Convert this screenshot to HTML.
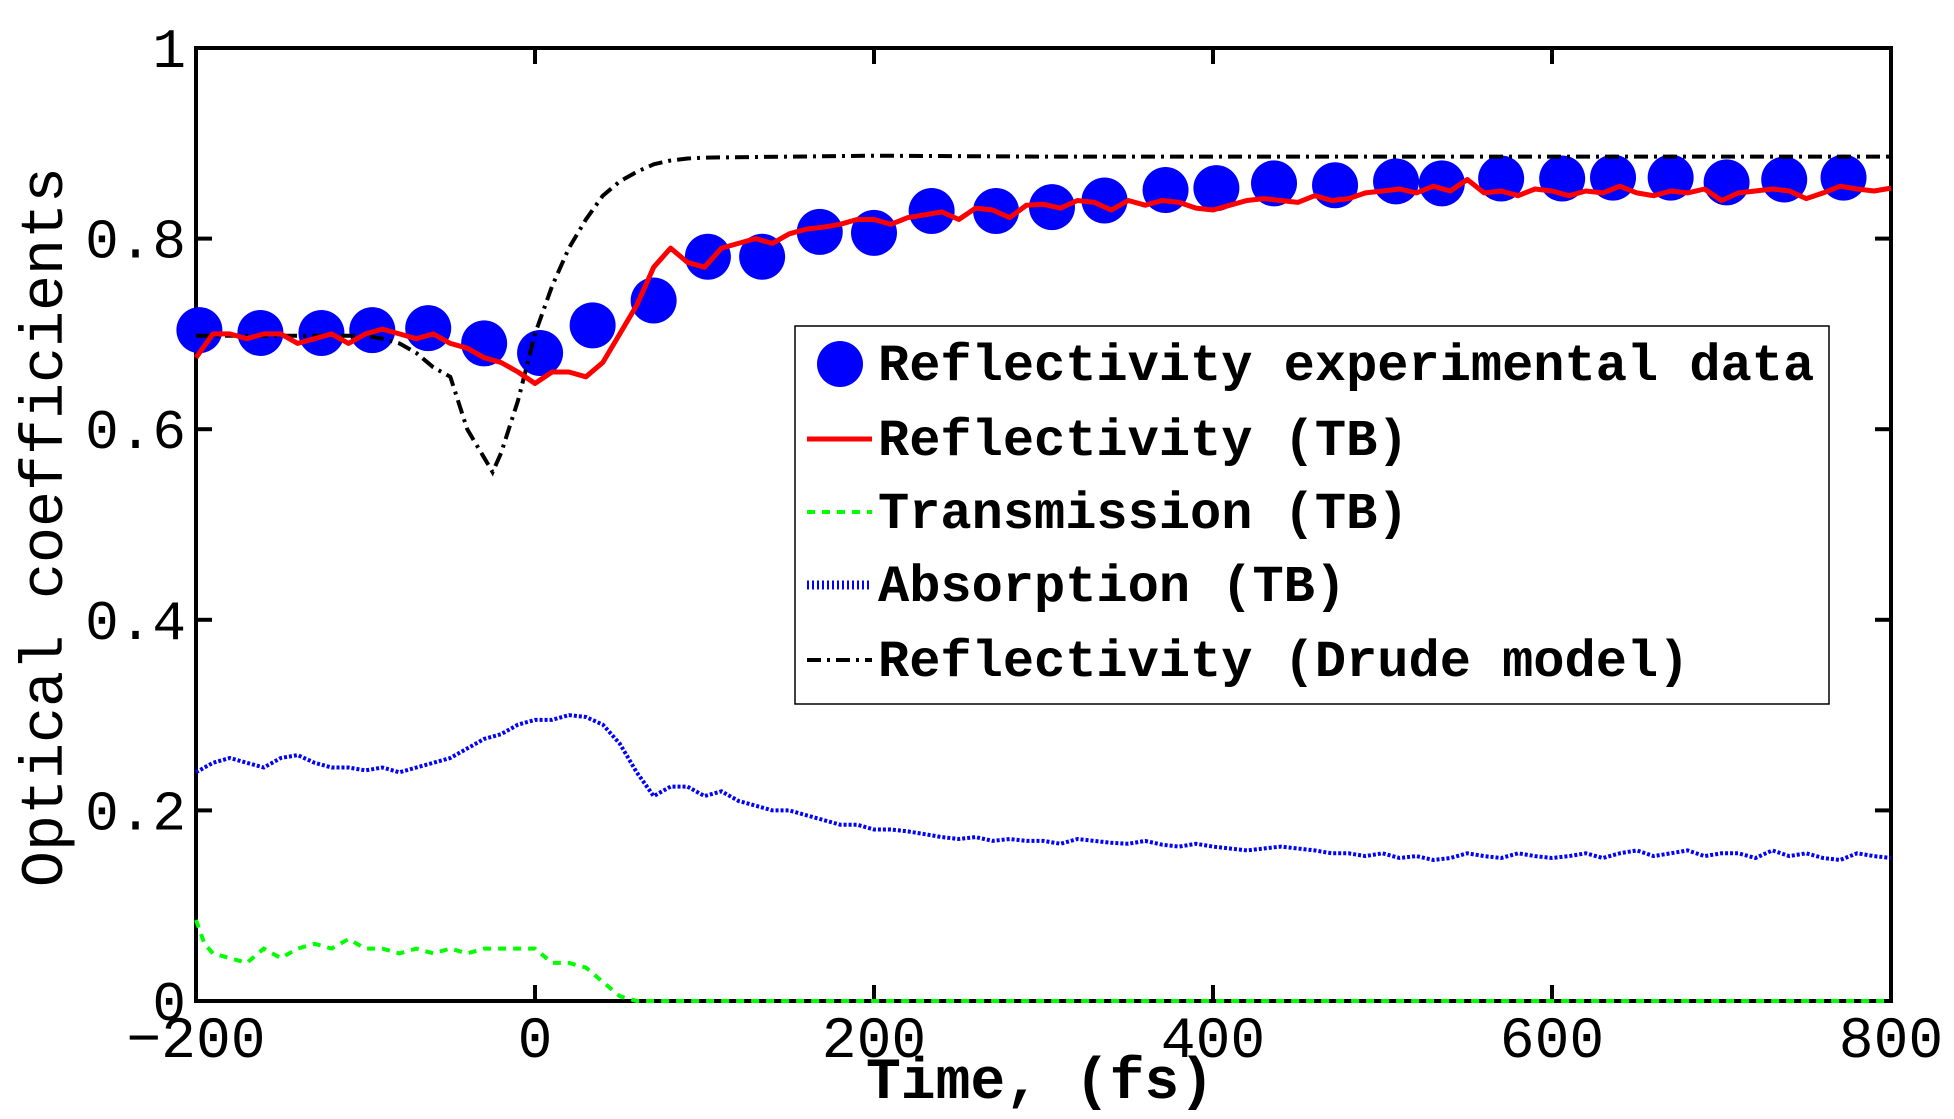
<!DOCTYPE html>
<html><head><meta charset="utf-8"><style>
html,body{margin:0;padding:0;background:#fff;}
svg{display:block;}
text{font-family:"Liberation Mono",monospace;fill:#000;}
</style></head><body>
<svg id="chart" width="1954" height="1119" viewBox="0 0 1954 1119" xmlns="http://www.w3.org/2000/svg">
<g id="axes"></g>
<g id="plot"></g>
<g id="legend"></g>
</svg>
<script>
const xTicks = [-200, 0, 200, 400, 600, 800];
const yTicks = [0, 0.2, 0.4, 0.6, 0.8, 1];
const yTickLabels = ["0", "0.2", "0.4", "0.6", "0.8", "1"];
const expT = [-198,-162,-126,-96,-63,-30,3,34,70,102,134,168,200,234,272,305,336,372,402,436,472,508,535,570,606,636,670,703,737,772];
const expV = [0.704,0.701,0.701,0.704,0.706,0.690,0.680,0.709,0.735,0.781,0.781,0.807,0.806,0.829,0.829,0.833,0.840,0.851,0.853,0.858,0.856,0.860,0.858,0.863,0.863,0.864,0.864,0.859,0.862,0.864];
const tbStart = -200, tbStep = 10;
const reflTB = [0.675,0.70,0.70,0.695,0.70,0.70,0.69,0.695,0.70,0.69,0.70,
0.705,0.70,0.695,0.70,0.69,0.685,0.675,0.67,0.66,0.648,
0.66,0.66,0.655,0.67,0.70,0.73,0.77,0.79,0.775,0.77,
0.79,0.795,0.80,0.795,0.805,0.81,0.812,0.815,0.82,0.82,
0.815,0.822,0.825,0.828,0.82,0.832,0.83,0.822,0.835,0.836,
0.832,0.84,0.838,0.83,0.84,0.835,0.84,0.838,0.832,0.83,
0.835,0.84,0.842,0.84,0.838,0.845,0.84,0.842,0.848,0.85,
0.852,0.848,0.855,0.85,0.862,0.848,0.85,0.845,0.852,0.85,
0.845,0.85,0.848,0.855,0.848,0.845,0.85,0.848,0.852,0.84,
0.848,0.85,0.852,0.85,0.842,0.848,0.855,0.852,0.85,0.853];
const absTB = [0.24,0.25,0.255,0.25,0.245,0.255,0.258,0.25,0.245,0.245,0.242,
0.245,0.24,0.245,0.25,0.255,0.265,0.275,0.28,0.29,0.295,
0.295,0.30,0.298,0.29,0.27,0.24,0.215,0.225,0.225,0.215,
0.22,0.21,0.205,0.20,0.20,0.195,0.19,0.185,0.185,0.18,
0.18,0.178,0.175,0.172,0.17,0.172,0.168,0.17,0.168,0.168,
0.165,0.17,0.168,0.166,0.165,0.168,0.164,0.162,0.165,0.162,
0.16,0.158,0.16,0.162,0.16,0.158,0.155,0.155,0.152,0.155,
0.15,0.152,0.148,0.15,0.155,0.152,0.15,0.155,0.152,0.15,
0.152,0.155,0.15,0.155,0.158,0.152,0.155,0.158,0.152,0.155,
0.155,0.15,0.158,0.152,0.155,0.15,0.148,0.155,0.152,0.15];
const drudeT = [-200,-100,-90,-80,-70,-60,-50,-40,-30,-25,-20,-10,0,10,20,30,40,50,60,70,80,90,100,200,300,400,500,600,700,800];
const drudeV = [0.698,0.698,0.695,0.69,0.68,0.665,0.655,0.60,0.57,0.555,0.575,0.63,0.70,0.75,0.79,0.82,0.845,0.86,0.87,0.878,0.882,0.884,0.885,0.887,0.886,0.886,0.886,0.886,0.886,0.886];
const transT = [-200,-195,-190,-180,-170,-160,-150,-140,-130,-120,-110,-100,-90,-80,-70,-60,-50,-40,-30,-20,-10,0,10,20,30,40,50,60,800];
const transV = [0.085,0.06,0.05,0.045,0.04,0.055,0.045,0.055,0.06,0.055,0.065,0.055,0.055,0.05,0.055,0.05,0.055,0.05,0.055,0.055,0.055,0.055,0.04,0.04,0.035,0.02,0.005,0,0];

const L=196,R=1891,T=48,B=1001;
const xs = t => L + (t - (-200)) / 1000 * (R - L);
const ys = v => B - v * (B - T);
const NS="http://www.w3.org/2000/svg";
function mk(tag, attrs, parent){const e=document.createElementNS(NS,tag);for(const k in attrs)e.setAttribute(k,attrs[k]);parent.appendChild(e);return e;}
const plot=document.getElementById('plot'), axes=document.getElementById('axes'), legend=document.getElementById('legend');
function pathFrom(ts, vs){return ts.map((t,i)=>(i?'L':'M')+xs(t).toFixed(1)+','+ys(vs[i]).toFixed(1)).join(' ');}
const tbT = reflTB.map((_,i)=>tbStart+i*tbStep);
const tbTa = absTB.map((_,i)=>tbStart+i*tbStep);

expT.forEach((t,i)=>{
  const c=mk('ellipse',{cx:xs(t),cy:ys(expV[i]),rx:23,ry:23,fill:'#0000ff'},plot);
  
  
});
let p;
p=mk('path',{d:pathFrom(drudeT,drudeV),fill:'none',stroke:'#000','stroke-width':4,'stroke-dasharray':'14,6,3,6'},plot);


p=mk('path',{d:pathFrom(tbT,reflTB),fill:'none',stroke:'#ff0000','stroke-width':5,'stroke-linejoin':'round'},plot);


p=mk('path',{d:pathFrom(tbTa,absTB),fill:'none',stroke:'#0000ff','stroke-width':4,'stroke-dasharray':'3,2'},plot);


p=mk('path',{d:pathFrom(transT,transV),fill:'none',stroke:'#00ff00','stroke-width':4,'stroke-dasharray':'8,7'},plot);



p=mk('rect',{x:L,y:T,width:R-L,height:B-T,fill:'none',stroke:'#000','stroke-width':4},axes);


xTicks.forEach(t=>{
  const x=xs(t);
  mk('line',{x1:x,y1:B,x2:x,y2:B-16,stroke:'#000','stroke-width':4},axes);
  mk('line',{x1:x,y1:T,x2:x,y2:T+16,stroke:'#000','stroke-width':4},axes);
  const tx=mk('text',{x:x,y:1057,'font-size':58,'text-anchor':'middle'},axes);
  tx.textContent=(t<0?'\u2212':'')+Math.abs(t);
  
  
});
yTicks.forEach((v,i)=>{
  const y=ys(v);
  mk('line',{x1:L,y1:y,x2:L+16,y2:y,stroke:'#000','stroke-width':4},axes);
  mk('line',{x1:R,y1:y,x2:R-16,y2:y,stroke:'#000','stroke-width':4},axes);
  const tx=mk('text',{x:186,y:y+19,'font-size':56,'text-anchor':'end'},axes);
  tx.textContent=yTickLabels[i];
  
  
});
let tl=mk('text',{x:1040,y:1098,'font-size':58,'font-weight':'bold','text-anchor':'middle'},axes);
tl.textContent='Time, (fs)';


tl=mk('text',{x:0,y:0,'font-size':60,'text-anchor':'middle',transform:'translate(62,527) rotate(-90)'},axes);
tl.textContent='Optical coefficients';



p=mk('rect',{x:795,y:326,width:1034,height:378,fill:'#fff',stroke:'#000','stroke-width':1.5},legend);


const rows=[364,439,512,585,660];
const labels=['Reflectivity experimental data','Reflectivity (TB)','Transmission (TB)','Absorption (TB)','Reflectivity (Drude model)'];
mk('ellipse',{cx:840,cy:rows[0],rx:23,ry:23,fill:'#0000ff'},legend);
mk('line',{x1:807,y1:rows[1],x2:872,y2:rows[1],stroke:'#ff0000','stroke-width':5},legend);
mk('line',{x1:807,y1:rows[2],x2:872,y2:rows[2],stroke:'#00ff00','stroke-width':4,'stroke-dasharray':'8,7'},legend);
mk('line',{x1:807,y1:rows[3],x2:872,y2:rows[3],stroke:'#0000ff','stroke-width':9,'stroke-dasharray':'2,3'},legend);
mk('line',{x1:807,y1:rows[4],x2:872,y2:rows[4],stroke:'#000','stroke-width':4,'stroke-dasharray':'14,6,3,6'},legend);
labels.forEach((s,i)=>{
  const tx=mk('text',{x:878,y:rows[i]+16,'font-size':52,'font-weight':'bold'},legend);
  tx.textContent=s;
  
  
});
</script>
</body></html>
